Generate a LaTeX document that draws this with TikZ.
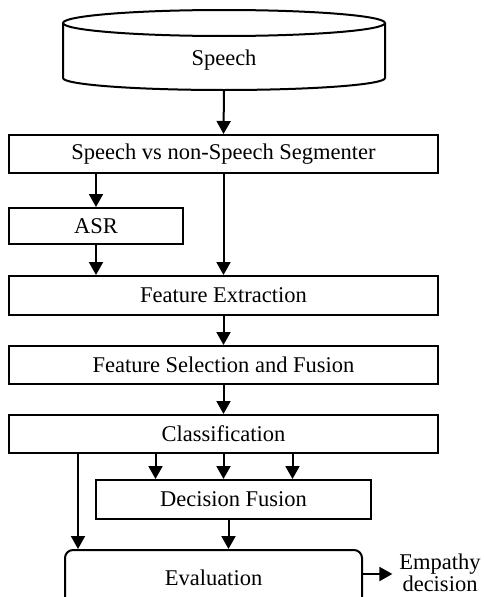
\documentclass[tikz,border=0pt]{standalone}
\usepackage{fontspec}
\setmainfont{Liberation Serif}
\usetikzlibrary{arrows.meta,calc}
\begin{document}
\begin{tikzpicture}[x=1pt,y=1pt,
  line width=2pt,
  font=\fontsize{22.5}{22}\selectfont,
  box/.style={draw,rectangle,inner sep=0pt,minimum height=38pt},
  arr/.style={-{Triangle[width=14pt,length=13pt]}},
  lbl/.style={inner sep=0pt}
]
\useasboundingbox (0,0) rectangle (483,-597);
% cylinder
\draw (63,-23) -- (63,-78) arc (180:360:161pt and 12pt) -- (385,-23);
\draw (224,-23) ellipse (161pt and 13pt);
\node[lbl] (speech) at (224,-60) {Speech};
\coordinate (cylbot) at (224,-90);

\node[box,minimum width=429pt] (seg) at (223.5,-154) {Speech vs non-Speech Segmenter};
\node[box,minimum width=174pt,minimum height=36pt] (asr) at (96,-226) {ASR};
\node[box,minimum width=429pt,minimum height=39pt] (fe) at (223.5,-295.5) {Feature Extraction};
\node[box,minimum width=429pt] (fsf) at (223.5,-365) {Feature Selection and Fusion};
\node[box,minimum width=429pt] (cls) at (223.5,-434) {Classification};
\node[box,minimum width=275pt,minimum height=39pt] (df) at (233.5,-499.5) {Decision Fusion};
\node[box,rounded corners=8pt,minimum width=297pt,minimum height=60pt] (eval) at (213.5,-580) {\raisebox{4pt}{Evaluation}};
\node[lbl,inner xsep=6pt,align=center] (emp) at (440,-573) {Empathy\\decision};

\draw[arr] (cylbot) -- (seg.north);
\draw[arr] (seg.south -| asr.north) -- (asr.north);
\draw[arr] (asr.south) -- (asr.south |- fe.north);
\draw[arr] (seg.south) -- (fe.north);
\draw[arr] (fe.south) -- (fsf.north);
\draw[arr] (fsf.south) -- (cls.north);
\draw[arr] ([xshift=-68pt]cls.south) -- ([xshift=-68pt]cls.south |- df.north);
\draw[arr] (cls.south) -- (cls.south |- df.north);
\draw[arr] ([xshift=69pt]cls.south) -- ([xshift=69pt]cls.south |- df.north);
\draw[arr] ([xshift=-145.5pt]cls.south) -- ([xshift=-145.5pt]cls.south |- eval.north);
\draw[arr] ([xshift=-5pt]df.south) -- ([xshift=-5pt]df.south |- eval.north);
\draw[arr] ([yshift=-1pt]emp.west -| eval.east) -- ([yshift=-1pt]emp.west);
\end{tikzpicture}
\end{document}
